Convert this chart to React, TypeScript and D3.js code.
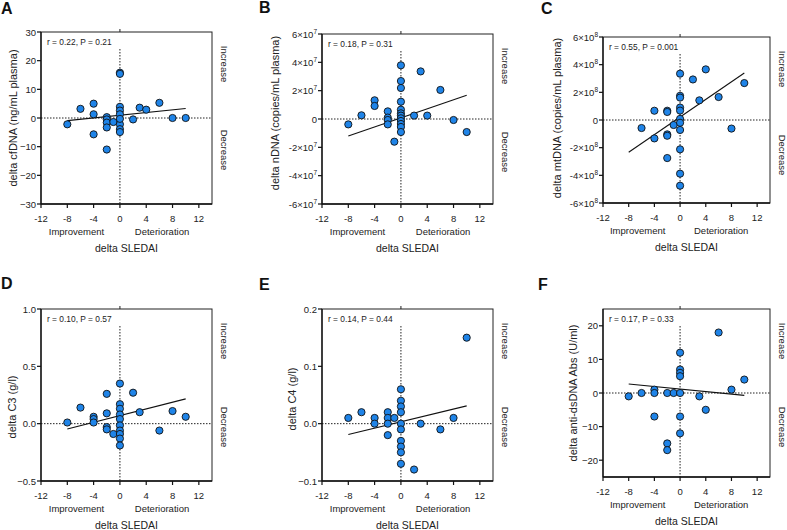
import React from 'react';
import * as d3 from 'd3';

// ---------- data ----------
const sledaiTicks = [-12, -8, -4, 0, 4, 8, 12];

const cfdnaX = [-8, -6, -4, -4, -4, -2, -2, -2, -2, -2, -1, 0, 0, 0, 0, 0, 0, 0, 0, 0, 2, 3, 4, 6, 8, 10];
const cfdnaY = [-2.2, 3.2, 5, 1.3, -5.7, 0.3, -0.5, -1.6, -3.3, -11, -1.4, 15.8, 15.4, 3.9, 2.6, 1.3, -2.2, -3.9, -4.9, -0.3, -0.5, 3.6, 2.9, 5.3, 0, 0];
const cfdnaFit = [-8, -0.9, 10, 3.3];
const cfdnaTicks = [-30, -20, -10, 0, 10, 20, 30];

const ndnaX = [-8, -6, -4, -4, -2, -2, -2, -2, -1, 0, 0, 0, 0, 0, 0, 0, 0, 0, 0, 0, 0, 2, 3, 4, 6, 8, 10];
const ndnaY = [-0.38e7, 0.26e7, 1.32e7, 0.92e7, 0.54e7, 0.1e7, -0.07e7, -0.38e7, -1.6e7, 3.79e7, 2.68e7, 2.19e7, 1.22e7, 0.66e7, 0.4e7, 0.24e7, 0.05e7, -0.14e7, -0.35e7, -0.56e7, -0.92e7, 0.24e7, 3.36e7, 0.24e7, 2.05e7, -0.07e7, -0.92e7];
const ndnaFit = [-8, -1.2e7, 10, 1.67e7];
const ndnaTicks = [-6e7, -4e7, -2e7, 0, 2e7, 4e7, 6e7];

const mtdnaX = [-6, -4, -4, -2, -2, -2, -2, -2, -1, 0, 0, 0, 0, 0, 0, 0, 0, 0, 0, 0, 2, 3, 4, 6, 8, 10];
const mtdnaY = [-0.58e8, 0.67e8, -1.33e8, 0.67e8, 0.58e8, -1.04e8, -1.14e8, -2.75e8, -0.36e8, 3.35e8, 1.75e8, 1.62e8, 0.9e8, 0.68e8, 0.08e8, -0.2e8, -0.72e8, -2.12e8, -3.88e8, -4.75e8, 2.93e8, 1.42e8, 3.66e8, 1.66e8, -0.62e8, 2.67e8];
const mtdnaFit = [-8, -2.33e8, 10, 3.4e8];
const mtdnaTicks = [-6e8, -4e8, -2e8, 0, 2e8, 4e8, 6e8];

const c3X = [-8, -6, -4, -4, -4, -2, -2, -2, -2, -1, 0, 0, 0, 0, 0, 0, 0, 0, 0, 0, 2, 3, 6, 8, 10];
const c3Y = [0.01, 0.14, 0.06, 0.04, 0.01, 0.26, 0.09, -0.03, -0.05, -0.09, 0.35, 0.17, 0.13, 0.08, 0.04, -0.015, -0.06, -0.09, -0.13, -0.19, 0.27, 0.1, -0.06, 0.11, 0.06];
const c3Fit = [-8, -0.047, 10, 0.216];
const c3Ticks = [-0.5, 0, 0.5, 1.0];

const c4X = [-8, -6, -4, -4, -2, -2, -2, -2, -1, 0, 0, 0, 0, 0, 0, 0, 0, 0, 0, 2, 3, 6, 8, 10];
const c4Y = [0.01, 0.02, 0.01, 0, 0.02, 0.01, 0, -0.02, 0.01, 0.06, 0.04, 0.03, 0.02, 0, -0.01, -0.03, -0.04, -0.05, -0.07, -0.08, 0, -0.01, 0.01, 0.15];
const c4Fit = [-8, -0.019, 10, 0.031];
const c4Ticks = [-0.1, 0, 0.1, 0.2];

const dsdnaX = [-8, -6, -4, -4, -4, -2, -2, -2, -1, 0, 0, 0, 0, 0, 0, 0, 3, 4, 6, 8, 10];
const dsdnaY = [-1, 0, 1, 0, -7, 0, -15, -17, 0, 12, 7, 6, 5, 0, -7, -12, -1, -5, 18, 1, 4];
const dsdnaFit = [-8, 2.7, 10, -0.7];
const dsdnaTicks = [-20, -10, 0, 10, 20];

const panelLetters = ['A', 'B', 'C', 'D', 'E', 'F'];
const yTitles = [
  'delta cfDNA (ng/mL plasma)',
  'delta nDNA (copies/mL plasma)',
  'delta mtDNA (copies/mL plasma)',
  'delta C3 (g/l)',
  'delta C4 (g/l)',
  'delta anti-dsDNA Abs (U/ml)',
];
const statTexts = [
  'r = 0.22, P = 0.21',
  'r = 0.18, P = 0.31',
  'r = 0.55, P = 0.001',
  'r = 0.10, P = 0.57',
  'r = 0.14, P = 0.44',
  'r = 0.17, P = 0.33',
];

// ---------- layout ----------
const FONT = 'Liberation Sans, Arial, Helvetica, sans-serif';
const FILL = '#1f84e8';

type Fmt = 'int' | 'sci' | 'dec1';
interface PanelCfg {
  letter: string; lx: number; ly: number;
  left: number; right: number; top: number; bottom: number;
  yDomain: [number, number]; yTicks: number[]; fmt: Fmt;
  xs: number[]; ys: number[]; fit: number[];
  yTitle: string; yTitleX: number; yTitleY: number; stat: string;
}

const panels: PanelCfg[] = [
  { letter: panelLetters[0], lx: 1, ly: 14, left: 41, right: 212, top: 32, bottom: 204, yDomain: [-30, 30], yTicks: cfdnaTicks, fmt: 'int', xs: cfdnaX, ys: cfdnaY, fit: cfdnaFit, yTitle: yTitles[0], yTitleX: 13, yTitleY: 118, stat: statTexts[0] },
  { letter: panelLetters[1], lx: 259, ly: 13, left: 322, right: 493, top: 34, bottom: 204, yDomain: [-6e7, 6e7], yTicks: ndnaTicks, fmt: 'sci', xs: ndnaX, ys: ndnaY, fit: ndnaFit, yTitle: yTitles[1], yTitleX: 275, yTitleY: 113, stat: statTexts[1] },
  { letter: panelLetters[2], lx: 541, ly: 14, left: 603, right: 770, top: 37, bottom: 203, yDomain: [-6e8, 6e8], yTicks: mtdnaTicks, fmt: 'sci', xs: mtdnaX, ys: mtdnaY, fit: mtdnaFit, yTitle: yTitles[2], yTitleX: 557, yTitleY: 118, stat: statTexts[2] },
  { letter: panelLetters[3], lx: 1, ly: 289, left: 41, right: 212, top: 309, bottom: 481, yDomain: [-0.5, 1.0], yTicks: c3Ticks, fmt: 'dec1', xs: c3X, ys: c3Y, fit: c3Fit, yTitle: yTitles[3], yTitleX: 12, yTitleY: 407, stat: statTexts[3] },
  { letter: panelLetters[4], lx: 259, ly: 290, left: 322, right: 493, top: 309, bottom: 481, yDomain: [-0.1, 0.2], yTicks: c4Ticks, fmt: 'dec1', xs: c4X, ys: c4Y, fit: c4Fit, yTitle: yTitles[4], yTitleX: 292, yTitleY: 399, stat: statTexts[4] },
  { letter: panelLetters[5], lx: 538, ly: 290, left: 603, right: 770, top: 309, bottom: 477, yDomain: [-25, 25], yTicks: dsdnaTicks, fmt: 'int', xs: dsdnaX, ys: dsdnaY, fit: dsdnaFit, yTitle: yTitles[5], yTitleX: 573, yTitleY: 393, stat: statTexts[5] },
];

function TickLabel({ v, fmt, x, y }: { v: number; fmt: Fmt; x: number; y: number }) {
  if (fmt === 'sci' && v !== 0) {
    const e = Math.floor(Math.log10(Math.abs(v)));
    const m = Math.round(v / Math.pow(10, e));
    return (
      <text x={x} y={y + 3.5} textAnchor="end" fontSize={9.5} fontFamily={FONT} fill="#222">
        {`${m}×10`}
        <tspan dy={-4} fontSize={6.5}>{e}</tspan>
      </text>
    );
  }
  const s = fmt === 'dec1' ? d3.format('.1f')(v) : d3.format('d')(v);
  return (
    <text x={x} y={y + 3.5} textAnchor="end" fontSize={9.5} fontFamily={FONT} fill="#222">{s}</text>
  );
}

function Panel({ p }: { p: PanelCfg }) {
  const x = d3.scaleLinear().domain([-12, 14]).range([p.left, p.right]);
  const y = d3.scaleLinear().domain(p.yDomain).range([p.bottom, p.top]);
  const x0 = x(0);
  const y0 = y(0);
  const line = d3.line<[number, number]>().x(d => x(d[0])).y(d => y(d[1]));
  const fitPts: [number, number][] = [[p.fit[0], p.fit[1]], [p.fit[2], p.fit[3]]];
  const cx = (p.left + p.right) / 2;
  return (
    <g>
      <text x={p.lx} y={p.ly} fontSize={16} fontWeight="bold" fontFamily={FONT} fill="#111">{p.letter}</text>
      {/* reference lines */}
      <line x1={p.left} x2={p.right} y1={y0} y2={y0} stroke="#222" strokeWidth={1} strokeDasharray="1.5,1.5" />
      <line x1={x0} x2={x0} y1={p.top + 17} y2={p.bottom} stroke="#222" strokeWidth={1} strokeDasharray="1.5,1.5" />
      <line x1={x0} x2={x0} y1={p.top - 3} y2={p.top} stroke="#222" strokeWidth={1} />
      {/* frame */}
      <rect x={p.left} y={p.top} width={p.right - p.left} height={p.bottom - p.top} fill="none" stroke="#222" strokeWidth={1} />
      <line x1={p.left} x2={p.left} y1={p.top} y2={p.bottom} stroke="#111" strokeWidth={1.3} />
      <line x1={p.left} x2={p.right} y1={p.bottom} y2={p.bottom} stroke="#111" strokeWidth={1.3} />
      {/* y ticks */}
      {p.yTicks.map(v => (
        <g key={v}>
          <line x1={p.left - 4} x2={p.left} y1={y(v)} y2={y(v)} stroke="#111" strokeWidth={1.2} />
          <TickLabel v={v} fmt={p.fmt} x={p.left - 5} y={y(v)} />
        </g>
      ))}
      {/* x ticks */}
      {sledaiTicks.map(v => (
        <g key={v}>
          <line x1={x(v)} x2={x(v)} y1={p.bottom} y2={p.bottom + 4} stroke="#111" strokeWidth={1.2} />
          <text x={x(v)} y={p.bottom + 17.5} textAnchor="middle" fontSize={9.5} fontFamily={FONT} fill="#222">{v}</text>
        </g>
      ))}
      {/* regression */}
      <path d={line(fitPts) || ''} stroke="#111" strokeWidth={1.1} fill="none" />
      {/* points */}
      {p.xs.map((xv, i) => (
        <circle key={i} cx={x(xv)} cy={y(p.ys[i])} r={3.6} fill={FILL} stroke="#111" strokeWidth={0.9} />
      ))}
      {/* stat */}
      <text x={p.left + 6} y={p.top + 13} fontSize={8.4} fontFamily={FONT} fill="#222">{p.stat}</text>
      {/* side labels */}
      <text transform={`translate(${p.right + 12},${p.top + 32}) rotate(90)`} textAnchor="middle" dominantBaseline="central" fontSize={9.5} fontFamily={FONT} fill="#222">Increase</text>
      <text transform={`translate(${p.right + 12},${p.top + 118}) rotate(90)`} textAnchor="middle" dominantBaseline="central" fontSize={9.5} fontFamily={FONT} fill="#222">Decrease</text>
      {/* x labels */}
      <text x={x(-6.6)} y={p.bottom + 31} textAnchor="middle" fontSize={9.5} fontFamily={FONT} fill="#222">Improvement</text>
      <text x={x(6.4)} y={p.bottom + 31} textAnchor="middle" fontSize={9.5} fontFamily={FONT} fill="#222">Deterioration</text>
      <text x={cx} y={p.bottom + 48} textAnchor="middle" fontSize={10.5} fontFamily={FONT} fill="#222">delta SLEDAI</text>
      {/* y title */}
      <text transform={`translate(${p.yTitleX},${p.yTitleY}) rotate(-90)`} textAnchor="middle" dominantBaseline="central" fontSize={11} fontFamily={FONT} fill="#222">{p.yTitle}</text>
    </g>
  );
}

export default function App() {
  return (
    <svg width={787} height={530} style={{ position: 'absolute', left: 0, top: 0, background: '#fff' }}>
      <rect width={787} height={530} fill="#fff" />
      {panels.map(p => <Panel key={p.letter} p={p} />)}
    </svg>
  );
}
